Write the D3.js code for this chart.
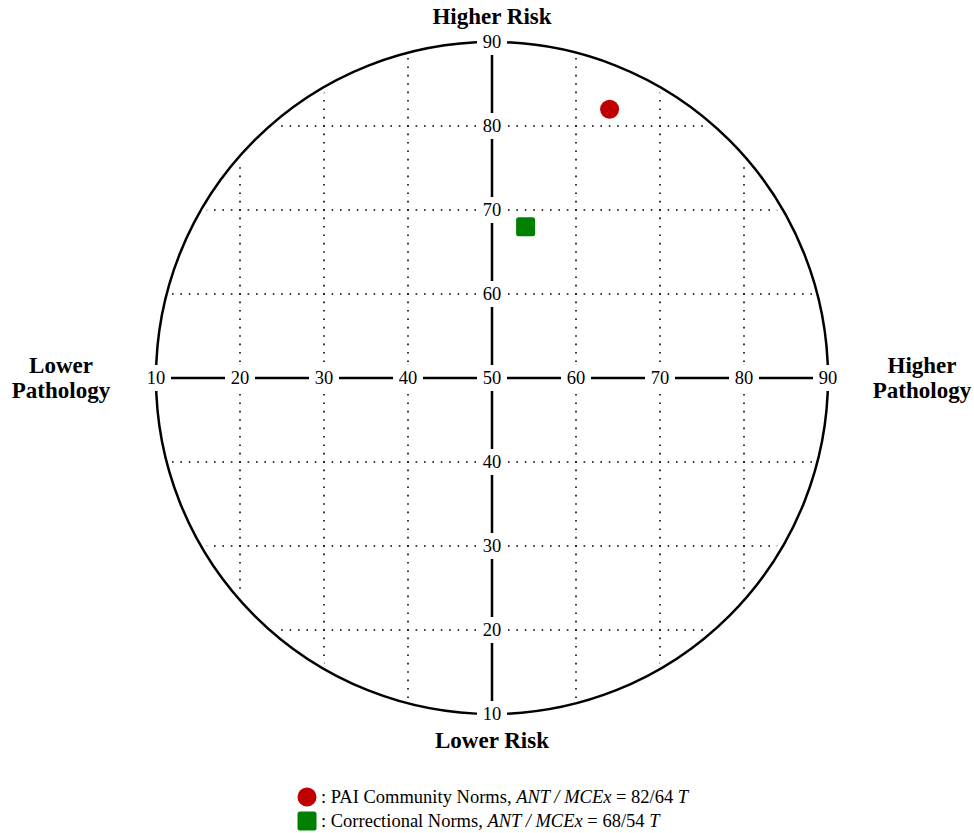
<!DOCTYPE html>
<html>
<head>
<meta charset="utf-8">
<script src="https://cdn.jsdelivr.net/npm/d3@7"></script>
<style>
  body { margin: 0; background: #fff; }
  svg { font-family: "Liberation Serif", "Times New Roman", serif; }
</style>
</head>
<body>
<div id="chart"></div>
<script>
// tick values on both axes
const ticks = [10, 20, 30, 40, 50, 60, 70, 80, 90];
const gridVals = [20, 30, 40, 60, 70, 80];

// points: x = MCEx (pathology), y = ANT (risk)
const pointNames = ["PAI Community Norms", "Correctional Norms"];
const antValues = [82, 68];
const mcexValues = [64, 54];
const pointColors = ["#c00000", "#008000"];
const pointShapes = ["circle", "square"];

const W = 974, H = 833;
const cx = 492, cy = 378, R = 336;

const svg = d3.select("#chart").append("svg")
  .attr("width", W).attr("height", H);

const x = d3.scaleLinear().domain([10, 90]).range([cx - R, cx + R]);
const y = d3.scaleLinear().domain([10, 90]).range([cy + R, cy - R]);
const step = x(11) - x(10);

svg.append("clipPath").attr("id", "clip")
  .append("circle").attr("cx", cx).attr("cy", cy).attr("r", R - 5);

// dotted grid, one dot per unit
const grid = svg.append("g").attr("clip-path", "url(#clip)")
  .attr("stroke", "#000").attr("stroke-width", 1.6)
  .attr("stroke-dasharray", `1.6 ${step - 1.6}`)
  .attr("stroke-dashoffset", 0.8);

grid.selectAll(".gv").data(gridVals).enter().append("line")
  .attr("x1", d => x(d)).attr("x2", d => x(d))
  .attr("y1", y(90)).attr("y2", y(10));

grid.selectAll(".gh").data(gridVals).enter().append("line")
  .attr("y1", d => y(d)).attr("y2", d => y(d))
  .attr("x1", x(10)).attr("x2", x(90));

// outer circle
svg.append("circle").attr("cx", cx).attr("cy", cy).attr("r", R)
  .attr("fill", "none").attr("stroke", "#000").attr("stroke-width", 2.5);

// axes
svg.append("line").attr("x1", x(10)).attr("x2", x(90))
  .attr("y1", cy).attr("y2", cy)
  .attr("stroke", "#000").attr("stroke-width", 2.5);
svg.append("line").attr("y1", y(10)).attr("y2", y(90))
  .attr("x1", cx).attr("x2", cx)
  .attr("stroke", "#000").attr("stroke-width", 2.5);

// tick labels with white backing
function tickLabel(px, py, txt) {
  const g = svg.append("g").attr("transform", `translate(${px},${py})`);
  g.append("rect").attr("x", -15).attr("y", -13).attr("width", 30).attr("height", 26)
    .attr("fill", "#fff");
  g.append("text").attr("text-anchor", "middle").attr("dy", "0.35em")
    .attr("font-size", 18.5).text(txt);
}
ticks.forEach(t => tickLabel(x(t), cy, t));
ticks.filter(t => t !== 50).forEach(t => tickLabel(cx, y(t), t));

// direction labels
function label(px, py, lines) {
  const t = svg.append("text").attr("x", px).attr("y", py)
    .attr("font-size", 23).attr("font-weight", "bold").attr("text-anchor", "middle");
  lines.forEach((l, i) => t.append("tspan").attr("x", px).attr("dy", i === 0 ? 0 : 25).text(l));
}
label(cx, 24, ["Higher Risk"]);
label(cx, 748, ["Lower Risk"]);
label(61, 373, ["Lower", "Pathology"]);
label(922, 373, ["Higher", "Pathology"]);

// points
function marker(g, shape, px, py, color) {
  if (shape === "circle") {
    g.append("circle").attr("cx", px).attr("cy", py).attr("r", 9.5).attr("fill", color);
  } else {
    g.append("rect").attr("x", px - 9.5).attr("y", py - 9.5)
      .attr("width", 19).attr("height", 19).attr("rx", 2.5).attr("fill", color);
  }
}
pointNames.forEach((name, i) => {
  marker(svg, pointShapes[i], x(mcexValues[i]), y(antValues[i]), pointColors[i]);
});

// legend
const legend = svg.append("g");
pointNames.forEach((name, i) => {
  const ly = 797 + i * 24;
  marker(legend, pointShapes[i], 307, ly, pointColors[i]);
  const t = legend.append("text").attr("x", 321).attr("y", ly + 6)
    .attr("font-size", 18.5);
  t.append("tspan").text(`: ${name}, `);
  t.append("tspan").attr("font-style", "italic").text("ANT / MCEx");
  t.append("tspan").text(` = ${antValues[i]}/${mcexValues[i]} `);
  t.append("tspan").attr("font-style", "italic").text("T");
});
</script>
</body>
</html>
